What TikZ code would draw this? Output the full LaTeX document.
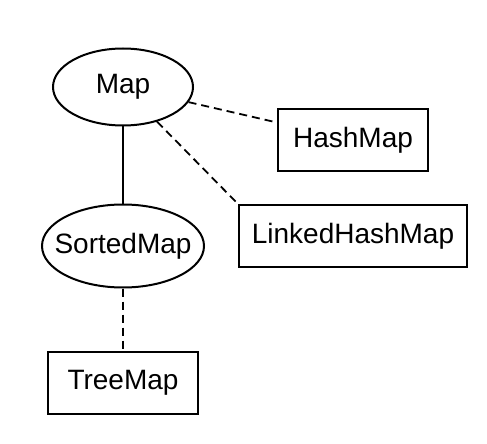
\documentclass[tikz,border=0pt]{standalone}
\usepackage{fontspec}
\setmainfont{Liberation Sans}
\usetikzlibrary{
    shapes.geometric
}

\begin{document}
\begin{tikzpicture}[
    x=0.5pt,
    y=-0.5pt,
    every node/.style={
        font=\fontsize{14pt}{16pt}\selectfont
    },
    iface/.style={
        ellipse,
        draw,
        line width=1pt,
        inner sep=0pt
    },
    impl/.style={
        rectangle,
        draw,
        line width=1pt,
        inner sep=0pt,
        minimum height=31pt
    },
    implements/.style={
        line width=0.9pt,
        dash pattern=on 4pt off 2.5pt
    }
]

    \useasboundingbox[fill=white] (0,0) rectangle (487,444);

    % -------------------------------------------------------
    % Interfaces
    % -------------------------------------------------------
    \node[
        iface,
        minimum width=70pt,
        minimum height=38.5pt
    ] (map) at (123,87)
        {\makebox[0pt]{Map}};

    \node[
        iface,
        minimum width=81pt,
        minimum height=41.5pt
    ] (sortedmap) at (123,246)
        {\makebox[0pt]{SortedMap}};

    % -------------------------------------------------------
    % Implementations
    % -------------------------------------------------------
    \node[
        impl,
        minimum width=75pt
    ] (hashmap) at (353,140)
        {HashMap};

    \node[
        impl,
        minimum width=114pt
    ] (linkedhashmap) at (353,236)
        {LinkedHashMap};

    \node[
        impl,
        minimum width=75pt
    ] (treemap) at (123,383)
        {TreeMap};

    % -------------------------------------------------------
    % Connectors
    % -------------------------------------------------------
    \draw[line width=1pt]
        (map) -- (sortedmap);

    \draw[implements]
        (map) -- (hashmap);

    \draw[implements]
        (map) -- (linkedhashmap.north west);

    \draw[implements]
        (sortedmap) -- (treemap);

\end{tikzpicture}
\end{document}
